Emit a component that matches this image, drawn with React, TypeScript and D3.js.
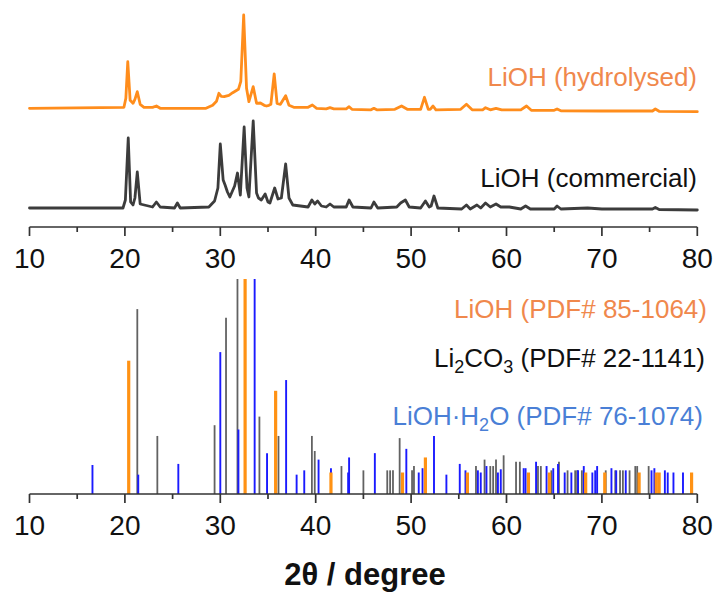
import React from "react";
import * as d3 from "d3";

// ---------- data ----------
const majorTicks = [10, 20, 30, 40, 50, 60, 70, 80];
const minorTicks = [15, 25, 35, 45, 55, 65, 75];

// top panel: measured patterns, [2θ, intensity above own baseline (a.u.)]
const commercialOffset = 18;
const hydrolysedOffset = 117.7;

const commercial: [number, number][] = [
  [10, 0], [19.8, 0], [20.05, 8], [20.35, 70], [20.6, 6], [20.85, 3], [21.05, 10], [21.3, 36],
  [21.6, 4], [22.9, 1], [23.3, 6], [23.7, 1], [25.2, 0], [25.5, 5], [25.8, 0], [28.8, 1],
  [29.4, 7], [29.75, 20], [30.0, 64], [30.3, 28], [30.5, 23], [30.75, 16], [31.0, 11],
  [31.5, 22], [31.8, 35], [32.1, 13], [32.5, 81], [32.8, 20], [33.0, 11], [33.45, 87],
  [33.8, 15], [34.0, 10], [34.3, 8], [34.7, 14], [35.0, 6], [35.2, 5], [35.7, 20], [36.05, 9],
  [36.4, 10], [36.85, 44], [37.2, 10], [37.6, 3], [39.2, 1], [39.6, 8], [39.9, 4], [40.2, 7],
  [40.6, 2], [41.1, 1], [41.5, 4], [41.9, 1], [43.2, 1], [43.5, 8], [43.9, 1], [45.8, 0],
  [46.1, 6], [46.5, 0], [48.5, 1], [48.9, 5], [49.4, 8], [49.8, 1], [51.0, 0], [51.5, 7],
  [51.9, 1], [52.1, 2], [52.4, 12], [52.8, 0], [55.3, -1], [55.8, 3], [56.2, -1], [56.9, 3],
  [57.3, 0], [57.8, 5], [58.3, 1], [58.9, 4], [59.4, 1], [60.3, 1], [61.5, -1], [62.0, 2],
  [62.5, -1], [65.0, -1], [65.3, 2], [65.7, -1], [68.5, 0], [70, -1], [75.3, -1], [75.6, 0.5],
  [76.0, -1.5], [80, -2],
];

const hydrolysed: [number, number][] = [
  [10, 0], [19.9, 1], [20.1, 10], [20.3, 46.6], [20.55, 8], [20.85, 5], [21.05, 9], [21.3, 16.6],
  [21.6, 4], [22.0, 1], [22.9, 1], [23.3, 2.3], [23.7, 0], [28.5, 0], [29.2, 3], [29.6, 7],
  [29.85, 15], [30.1, 12], [30.4, 11.6], [30.9, 13], [31.3, 15.6], [31.9, 19], [32.15, 27],
  [32.45, 93.3], [32.75, 20], [33.0, 6.6], [33.45, 21.6], [33.8, 5], [34.2, 5.3], [34.6, 3],
  [34.85, 2.3], [35.1, 3], [35.3, 4], [35.65, 34.3], [35.95, 5], [36.3, 4], [36.85, 12.6],
  [37.2, 3], [37.7, 1], [39.2, 1], [39.65, 3.3], [40.1, 0], [41.1, -0.5], [41.5, 0.6],
  [41.9, -0.5], [43.2, -0.5], [43.5, 1.6], [43.8, -1], [45.8, -1.5], [46.1, 0], [46.4, -1.5],
  [48.3, -1], [49.0, 2.3], [49.6, -1], [51.0, -1], [51.4, 11], [51.8, -1], [52.0, -1],
  [52.3, 2.3], [52.6, -1.5], [55.2, -1], [55.8, 4], [56.4, -1.5], [57.5, -1.5], [57.8, 0.6],
  [58.3, -1.5], [58.9, 0], [59.5, -1.5], [61.5, -1.5], [62.1, 2.3], [62.6, -2], [65.0, -2],
  [65.3, -0.7], [65.7, -2.5], [70, -2.7], [75.3, -2.7], [75.6, -0.7], [76.0, -3], [80, -3.4],
];

// bottom panel: reference patterns, [2θ, relative intensity %]
const lioh: [number, number][] = [
  [20.4, 62], [32.6, 100], [35.8, 48], [41.6, 10], [49.1, 10], [51.5, 17], [55.9, 10],
  [62.3, 10], [64.5, 10], [68.3, 10], [70.3, 10], [73.9, 10], [75.7, 10], [76.0, 10], [79.4, 10],
];

const li2co3: [number, number][] = [
  [21.3, 86], [23.4, 27], [29.4, 32], [30.6, 82], [31.8, 100], [34.1, 36], [36.1, 27],
  [39.6, 27], [39.9, 20], [42.7, 13], [45.0, 11], [47.5, 11], [47.8, 11], [48.1, 11],
  [48.8, 26], [50.1, 11], [50.3, 13], [56.8, 13], [57.7, 16], [58.3, 13], [58.6, 13],
  [58.9, 16], [59.7, 18], [61.0, 15], [61.4, 15], [63.3, 13], [63.6, 13], [64.7, 11],
  [65.5, 15], [66.4, 11], [67.2, 11], [67.4, 11], [67.9, 11], [70.4, 11], [71.4, 11],
  [71.9, 11], [72.2, 11], [72.9, 11], [73.5, 13], [73.7, 13], [74.9, 13],
];

const liohH2O: [number, number][] = [
  [16.6, 13.5], [21.4, 9], [25.6, 14], [30.0, 66], [31.9, 30], [33.6, 100], [34.9, 19],
  [36.9, 53], [38.0, 9], [38.8, 11], [40.3, 16], [41.6, 12], [43.4, 10], [43.5, 17],
  [46.2, 19], [49.5, 21], [50.8, 10], [51.2, 12], [52.4, 27], [53.7, 9], [55.1, 14],
  [55.7, 11], [57.0, 11], [57.3, 10], [57.9, 13], [59.1, 10], [59.4, 11.5], [61.8, 12],
  [62.0, 12], [63.1, 15], [64.2, 13], [64.9, 12], [65.4, 14], [66.1, 10], [66.8, 10],
  [67.5, 11], [68.1, 13], [69.0, 10], [69.3, 11], [69.5, 13], [71.0, 12], [71.5, 11],
  [72.5, 11], [75.2, 11], [75.5, 12], [76.6, 11], [76.9, 10], [77.5, 10], [78.5, 10],
];

// ---------- chart ----------
const FONT = "Arial, 'Liberation Sans', Helvetica, sans-serif";
const AXIS = "#333333";

export default function App() {
  const x = d3.scaleLinear().domain([10, 80]).range([29.5, 697.3]);
  const yTop = d3.scaleLinear().domain([0, 216]).range([226, 10]);
  const yBot = d3.scaleLinear().domain([0, 100]).range([494, 279]);

  const lineFor = (offset: number) =>
    d3
      .line<[number, number]>()
      .x((d) => x(d[0]))
      .y((d) => yTop(offset + d[1]));

  const axisY = [227, 494];

  const Axis = ({ y0 }: { y0: number }) => (
    <g>
      <line x1={x(10)} x2={x(80)} y1={y0} y2={y0} stroke={AXIS} strokeWidth={1.7} />
      {majorTicks.map((t) => (
        <g key={"M" + t}>
          <line x1={x(t)} x2={x(t)} y1={y0} y2={y0 + 9} stroke={AXIS} strokeWidth={1.7} />
          <text
            x={x(t)}
            y={y0 + 41}
            textAnchor="middle"
            fontFamily={FONT}
            fontSize={28}
            fill="#111"
          >
            {t}
          </text>
        </g>
      ))}
      {minorTicks.map((t) => (
        <line key={"m" + t} x1={x(t)} x2={x(t)} y1={y0} y2={y0 + 5} stroke={AXIS} strokeWidth={1.7} />
      ))}
    </g>
  );

  const bars = (data: [number, number][], color: string, w: number, key: string) =>
    data.map((d, i) => (
      <line
        key={key + i}
        x1={x(d[0])}
        x2={x(d[0])}
        y1={yBot(0)}
        y2={yBot(d[1])}
        stroke={color}
        strokeWidth={w}
      />
    ));

  return (
    <svg
      width={718}
      height={592}
      style={{ position: "absolute", left: 0, top: 0, background: "#fff" }}
    >
      <rect width={718} height={592} fill="#fff" />
      {/* top panel curves */}
      <path
        d={lineFor(commercialOffset)(commercial) || ""}
        fill="none"
        stroke="#3c3c3c"
        strokeWidth={2.8}
        strokeLinejoin="round"
        strokeLinecap="round"
      />
      <path
        d={lineFor(hydrolysedOffset)(hydrolysed) || ""}
        fill="none"
        stroke="#ff8d1c"
        strokeWidth={2.8}
        strokeLinejoin="round"
        strokeLinecap="round"
      />
      <text x={697} y={86} textAnchor="end" fontFamily={FONT} fontSize={26} fill="#f0884c">
        LiOH (hydrolysed)
      </text>
      <text x={697} y={187} textAnchor="end" fontFamily={FONT} fontSize={26} fill="#111">
        LiOH (commercial)
      </text>
      <Axis y0={axisY[0]} />

      {/* bottom panel sticks */}
      {bars(li2co3, "#626262", 1.8, "c")}
      {bars(liohH2O, "#1a1aff", 1.9, "h")}
      {bars(lioh, "#ff9214", 3.2, "l")}

      <text x={707} y={318} textAnchor="end" fontFamily={FONT} fontSize={26} fill="#f0884c">
        LiOH (PDF# 85-1064)
      </text>
      <text x={705} y={367} textAnchor="end" fontFamily={FONT} fontSize={26} fill="#111">
        Li
        <tspan fontSize={18} dy={6}>2</tspan>
        <tspan dy={-6}>CO</tspan>
        <tspan fontSize={18} dy={6}>3</tspan>
        <tspan dy={-6}> (PDF# 22-1141)</tspan>
      </text>
      <text x={703} y={425} textAnchor="end" fontFamily={FONT} fontSize={26} fill="#4a7fd6">
        LiOH·H
        <tspan fontSize={18} dy={6}>2</tspan>
        <tspan dy={-6}>O (PDF# 76-1074)</tspan>
      </text>
      <Axis y0={axisY[1]} />

      <text
        x={365}
        y={585}
        textAnchor="middle"
        fontFamily={FONT}
        fontSize={31}
        fontWeight="bold"
        fill="#111"
      >
        2θ / degree
      </text>
    </svg>
  );
}
